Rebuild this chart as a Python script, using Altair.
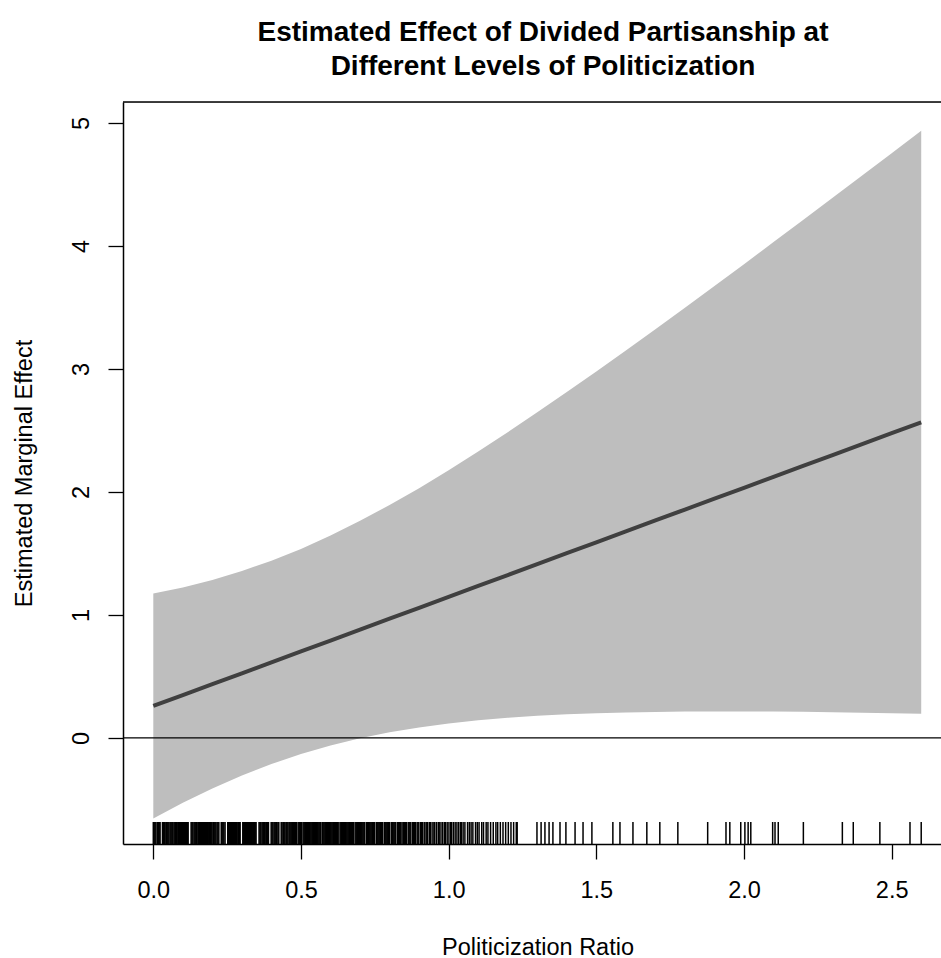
import altair as alt
import pandas as pd

# ---- data ----
x_grid = [0.0, 0.1, 0.2, 0.3, 0.4, 0.5, 0.6, 0.7, 0.8, 0.9, 1.0, 1.1, 1.2, 1.3,
          1.4, 1.5, 1.6, 1.7, 1.8, 1.9, 2.0, 2.1, 2.2, 2.3, 2.4, 2.5, 2.6]
estimate = [0.260, 0.349, 0.437, 0.526, 0.615, 0.704, 0.792, 0.881, 0.970, 1.058,
            1.147, 1.236, 1.324, 1.413, 1.502, 1.591, 1.679, 1.768, 1.857, 1.945,
            2.034, 2.123, 2.211, 2.300, 2.389, 2.478, 2.566]
upper = [1.174, 1.224, 1.285, 1.357, 1.441, 1.537, 1.645, 1.765, 1.894, 2.031,
         2.177, 2.328, 2.485, 2.647, 2.812, 2.980, 3.150, 3.323, 3.498, 3.674,
         3.852, 4.031, 4.210, 4.391, 4.572, 4.754, 4.937]
lower = [-0.654, -0.527, -0.410, -0.305, -0.212, -0.130, -0.061, -0.003, 0.046, 0.085,
         0.117, 0.143, 0.164, 0.180, 0.192, 0.201, 0.208, 0.212, 0.215, 0.216,
         0.216, 0.215, 0.213, 0.209, 0.205, 0.201, 0.196]

rug_values = [
    0.000, 0.003, 0.006, 0.009, 0.014, 0.017, 0.020, 0.023, 0.031, 0.034, 0.037, 0.040,
    0.044, 0.047, 0.050, 0.053, 0.057, 0.060, 0.063, 0.066, 0.070, 0.073, 0.076, 0.079,
    0.083, 0.086, 0.089, 0.092, 0.096, 0.099, 0.102, 0.105, 0.109, 0.112, 0.115, 0.118,
    0.128, 0.131, 0.134, 0.138, 0.141, 0.144, 0.147, 0.151, 0.154, 0.157, 0.160, 0.164,
    0.167, 0.170, 0.173, 0.177, 0.180, 0.183, 0.186, 0.190, 0.193, 0.196, 0.199, 0.203,
    0.206, 0.209, 0.212, 0.216, 0.219, 0.222, 0.230, 0.233, 0.236, 0.239, 0.243, 0.252,
    0.255, 0.258, 0.262, 0.265, 0.268, 0.271, 0.275, 0.278, 0.281, 0.284, 0.288, 0.291,
    0.294, 0.303, 0.306, 0.309, 0.313, 0.316, 0.319, 0.322, 0.326, 0.329, 0.332, 0.335,
    0.339, 0.342, 0.345, 0.348, 0.358, 0.361, 0.364, 0.368, 0.371, 0.374, 0.377, 0.381,
    0.384, 0.387, 0.390, 0.399, 0.402, 0.405, 0.409, 0.412, 0.415, 0.418, 0.422, 0.425,
    0.433, 0.436, 0.440, 0.443, 0.446, 0.450, 0.453, 0.456,
    0.460, 0.463, 0.466, 0.469, 0.472, 0.475, 0.478, 0.481, 0.484, 0.490, 0.493, 0.496,
    0.499, 0.502, 0.507, 0.510, 0.513, 0.516, 0.519, 0.522, 0.525, 0.528, 0.531, 0.534,
    0.537, 0.540, 0.543, 0.546, 0.549, 0.552, 0.555, 0.558, 0.561, 0.564, 0.567, 0.572,
    0.575, 0.578, 0.581, 0.584, 0.587, 0.590, 0.593, 0.596, 0.599, 0.602, 0.605, 0.608,
    0.611, 0.614, 0.617, 0.620, 0.623, 0.626, 0.632, 0.635, 0.638, 0.641, 0.644, 0.647,
    0.650, 0.653, 0.656, 0.659, 0.662, 0.665, 0.668, 0.671, 0.674, 0.677, 0.683, 0.686,
    0.689, 0.692, 0.695, 0.698, 0.701, 0.704, 0.707, 0.710, 0.713, 0.716, 0.722, 0.725,
    0.728, 0.731, 0.734, 0.737, 0.740, 0.743, 0.746, 0.749, 0.755, 0.758, 0.761, 0.764,
    0.767, 0.770, 0.773, 0.776, 0.782, 0.785, 0.788, 0.791, 0.794, 0.797, 0.800, 0.806,
    0.809, 0.812, 0.815, 0.818, 0.821, 0.827, 0.830, 0.833, 0.836, 0.839, 0.845, 0.848,
    0.851, 0.854, 0.857, 0.863, 0.866, 0.869, 0.872, 0.878, 0.881, 0.884, 0.887, 0.893,
    0.896, 0.899, 0.905, 0.908, 0.911, 0.917, 0.920, 0.926, 0.929, 0.935, 0.938, 0.944,
    0.950, 0.953, 0.959, 0.965, 0.968, 0.974, 0.980, 0.986, 0.989, 0.995, 1.001, 1.007,
    1.010, 1.016, 1.022, 1.028, 1.034, 1.040, 1.043, 1.049, 1.055, 1.064, 1.070, 1.076,
    1.082, 1.091, 1.097, 1.103, 1.112, 1.118, 1.127, 1.133, 1.142, 1.151, 1.160, 1.166,
    1.175, 1.184, 1.193, 1.202, 1.211, 1.220, 1.229, 1.232,
    1.299, 1.313, 1.326, 1.340, 1.353, 1.377, 1.397, 1.428, 1.455, 1.485, 1.556, 1.580,
    1.624, 1.671, 1.715, 1.776, 1.877, 1.939, 1.952, 1.989, 2.003, 2.014, 2.023, 2.097,
    2.105, 2.116, 2.201, 2.333, 2.370, 2.460, 2.562, 2.600,
]

x_ticks = [0.0, 0.5, 1.0, 1.5, 2.0, 2.5]
y_ticks = [0, 1, 2, 3, 4, 5]

FONT = "Liberation Sans"
FS = 23.5
W, H = 818, 742
X_DOMAIN = [-0.1026, 2.667]
Y_DOMAIN = [-0.862, 5.17]

band = pd.DataFrame({"x": x_grid, "est": estimate, "upper": upper, "lower": lower})
rug = pd.DataFrame({"r": rug_values})
zero = pd.DataFrame({"z": [0]})

xscale = alt.Scale(domain=X_DOMAIN, nice=False, zero=False)
yscale = alt.Scale(domain=Y_DOMAIN, nice=False, zero=False)

x_axis = alt.Axis(
    values=x_ticks, format=".1f", grid=False, title="Politicization Ratio",
    labelFont=FONT, labelFontSize=FS, labelColor="black", labelBaseline="alphabetic",
    labelPadding=38, tickSize=15, tickColor="black", tickWidth=1.3,
    domainColor="black", domainWidth=1.5, titleFont=FONT, titleFontSize=FS,
    titleFontWeight="normal", titleColor="black", titleX=414.5, titleY=110,
    titleBaseline="alphabetic", titleAlign="center", labelFlush=False,
)
y_axis = alt.Axis(
    values=y_ticks, format="d", grid=False, title="Estimated Marginal Effect",
    labelFont=FONT, labelFontSize=FS, labelColor="black", labelAngle=270,
    labelAlign="center", labelBaseline="alphabetic", labelPadding=20,
    tickSize=15, tickColor="black", tickWidth=1.3, domainColor="black", domainWidth=1.5,
    titleFont=FONT, titleFontSize=FS, titleFontWeight="normal", titleColor="black",
    titleAngle=270, titleX=-91.3, titleY=371, titleBaseline="alphabetic",
    titleAlign="center", labelFlush=False,
)

area = alt.Chart(band).mark_area(color="#BEBEBE", opacity=1).encode(
    x=alt.X("x:Q", scale=xscale, axis=x_axis),
    y=alt.Y("lower:Q", scale=yscale, axis=y_axis),
    y2="upper:Q",
)
line = alt.Chart(band).mark_line(color="#404040", strokeWidth=4).encode(
    x=alt.X("x:Q", scale=xscale),
    y=alt.Y("est:Q", scale=yscale),
)
zero_line = alt.Chart(zero).mark_rule(color="black", strokeWidth=1.3).encode(
    y=alt.Y("z:Q", scale=yscale),
)
rug_marks = alt.Chart(rug).mark_rule(color="black", strokeWidth=1.5).encode(
    x=alt.X("r:Q", scale=xscale),
    y=alt.value(H - 22),
    y2=alt.value(H),
)
top_border = alt.Chart(zero).mark_rule(color="black", strokeWidth=1.5).encode(
    x=alt.value(0), x2=alt.value(W), y=alt.value(0),
)

chart = alt.layer(area, line, zero_line, rug_marks, top_border).properties(
    width=W, height=H,
    title=alt.TitleParams(
        ["Estimated Effect of Divided Partisanship at",
         "Different Levels of Politicization"],
        font=FONT, fontSize=28, fontWeight="bold", color="black",
        anchor="middle", frame="group", lineHeight=34, offset=20, dx=11,
    ),
    autosize=alt.AutoSizeParams(type="none"),
    padding={"left": 123, "top": 102, "right": 0, "bottom": 114},
).configure_view(stroke=None).configure(background="white")

chart.save("out.html", embed_options={"renderer": "svg", "actions": False})
